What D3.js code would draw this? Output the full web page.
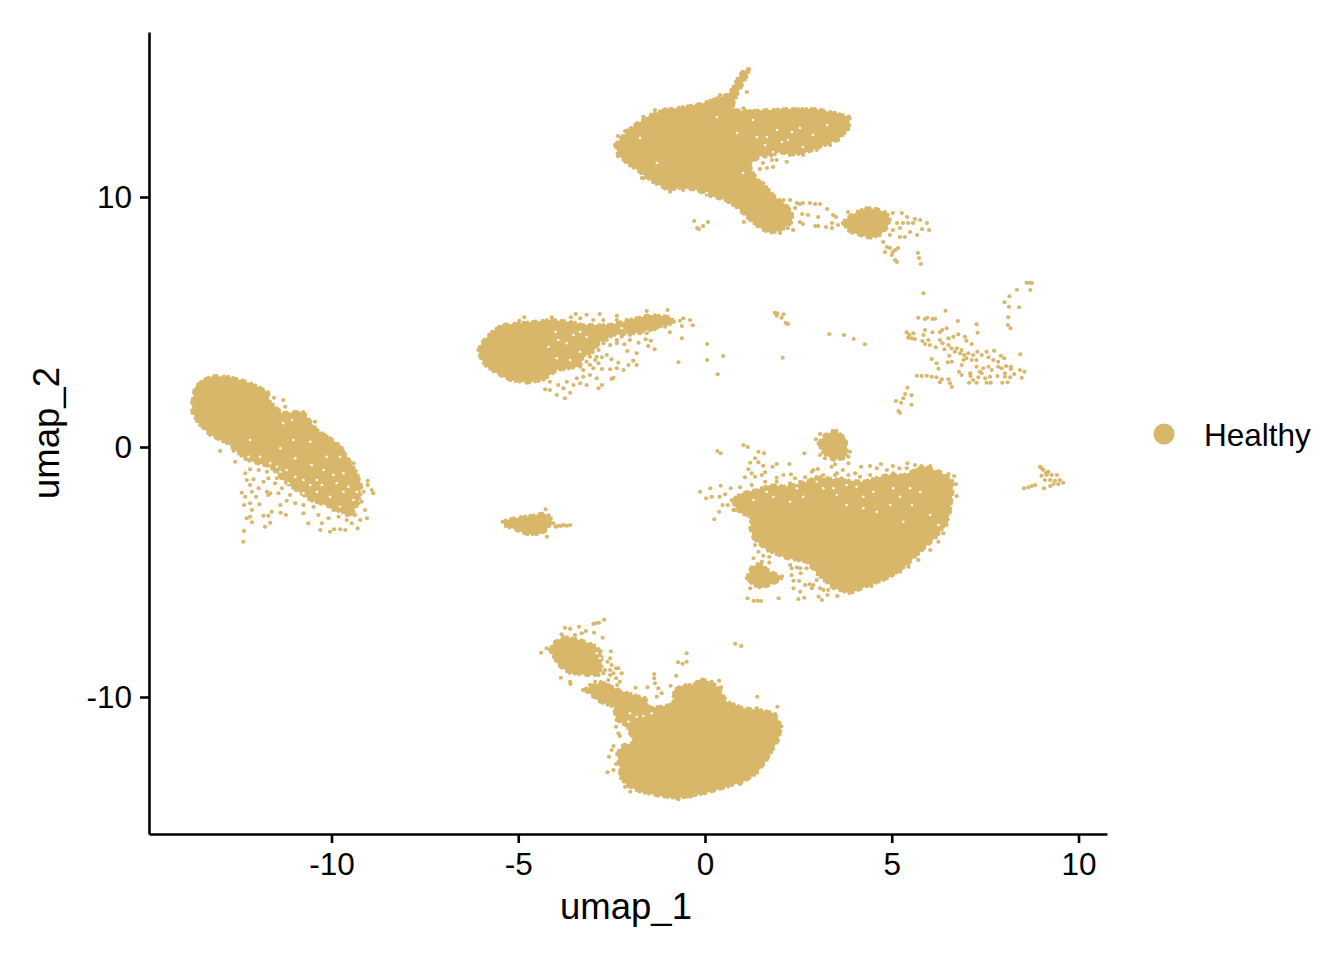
<!DOCTYPE html>
<html><head><meta charset="utf-8">
<script src="https://cdn.jsdelivr.net/npm/d3@7"></script>
<style>html,body{margin:0;background:#fff}svg{display:block}text{font-family:"Liberation Sans",Arial,sans-serif;fill:#000}</style>
</head><body><div id="c"></div>
<script>
const xTicks=[-10,-5,0,5,10];
const yTicks=[-10,0,10];
const xLabel="umap_1", yLabel="umap_2";
const groupName="Healthy";
const groupColor="#D8B66A";

// Dense regions: outlines, in umap units
const blobTop=[[-2.41,12.08],[-2.06,12.68],[-1.74,13],[-1.47,13.28],[-1.07,13.48],[-.4,13.64],[0,13.76],[.35,13.96],[.59,14.08],[.75,14.36],[.88,14.76],[1.02,15.04],[1.2,15.12],[1.12,14.84],[1.02,14.56],[.88,14.16],[.75,13.72],[.78,13.48],[1.2,13.44],[1.74,13.48],[2.28,13.52],[2.95,13.52],[3.48,13.36],[3.88,13.2],[3.86,12.76],[3.56,12.28],[3.08,12],[2.68,11.76],[2.28,11.68],[2.01,11.8],[1.74,11.64],[1.53,11.68],[1.34,11.48],[1.2,11.28],[1.26,11],[1.42,10.68],[1.66,10.36],[1.87,10],[2.14,9.72],[2.33,9.36],[2.33,9],[2.06,8.68],[1.74,8.56],[1.47,8.76],[1.15,9.16],[.88,9.56],[.54,9.88],[.13,10.04],[-.21,10.28],[-.67,10.36],[-.99,10.28],[-1.39,10.6],[-1.82,11.08],[-2.06,11.32],[-2.33,11.68]];
const blobTopRight=[[3.69,8.96],[3.83,9.2],[4.07,9.4],[4.33,9.56],[4.6,9.52],[4.87,9.36],[4.95,9.08],[4.87,8.76],[4.69,8.48],[4.41,8.36],[4.15,8.48],[3.88,8.6]];
const blobLeft=[[-13.73,1.8],[-13.65,2.4],[-13.44,2.68],[-13.17,2.84],[-12.72,2.8],[-12.18,2.56],[-11.7,2.2],[-11.65,1.8],[-11.33,1.36],[-10.76,1.4],[-10.39,.68],[-9.85,.16],[-9.58,-.4],[-9.32,-1.04],[-9.2,-1.6],[-9.28,-2.25],[-9.5,-2.79],[-10.04,-2.39],[-10.57,-2.12],[-11.2,-1.45],[-11.64,-.79],[-12.27,-.52],[-12.37,-.4],[-12.8,.16],[-13.25,.48],[-13.57,.96],[-13.73,1.4]];
const blobMid=[[-6.07,3.88],[-5.98,4.15],[-5.75,4.55],[-5.44,4.88],[-4.95,4.95],[-4.15,5.08],[-3.61,5.01],[-3.26,4.88],[-2.54,4.88],[-2.01,5.08],[-1.47,5.28],[-.94,5.21],[-.8,4.95],[-1.11,4.88],[-1.47,4.68],[-1.92,4.55],[-2.45,4.48],[-2.81,4.21],[-2.99,3.81],[-3.26,3.61],[-3.34,3.21],[-3.97,3.08],[-4.33,2.68],[-4.77,2.57],[-5.22,2.68],[-5.58,2.95],[-5.89,3.28],[-6.02,3.61]];
const blobStrip=[[-5.42,-2.99],[-5.22,-2.88],[-4.86,-2.79],[-4.6,-2.75],[-4.33,-2.65],[-4.15,-2.75],[-4.1,-2.99],[-4.24,-3.32],[-4.42,-3.49],[-4.77,-3.49],[-5.04,-3.32],[-5.35,-3.15]];
const blobCap=[[3.04,.15],[3.21,.48],[3.48,.68],[3.75,.35],[3.81,-.05],[3.75,-.45],[3.44,-.52],[3.17,-.25]];
const blobRight=[[1.3,-3.65],[1.65,-4.12],[2.19,-4.45],[2.72,-4.59],[3.04,-5.12],[3.44,-5.65],[3.88,-5.85],[4.42,-5.52],[4.96,-5.19],[5.4,-4.72],[5.76,-4.19],[6.2,-3.59],[6.52,-2.85],[6.61,-2.05],[6.65,-1.39],[6.29,-.99],[5.85,-.79],[5.31,-1.12],[4.87,-1.12],[4.24,-1.39],[3.62,-1.32],[3,-1.19],[2.72,-1.39],[2.19,-1.59],[1.74,-1.52],[1.39,-1.72],[.98,-1.85],[.72,-2.12],[.94,-2.65],[1.25,-2.79],[1.21,-3.25]];
const blobRightFoot=[[1.12,-5.25],[1.25,-4.79],[1.47,-4.65],[1.74,-4.99],[2.1,-5.19],[1.92,-5.39],[1.52,-5.65],[1.3,-5.52]];
const blobBottom=[[-2.35,-12.25],[-2.19,-11.92],[-1.96,-11.85],[-1.87,-11.59],[-1.6,-10.92],[-1.11,-10.52],[-.85,-10.25],[-.83,-9.72],[-.58,-9.52],[-.31,-9.52],[-.13,-9.29],[.18,-9.39],[.4,-9.72],[.58,-10.19],[1.03,-10.45],[1.47,-10.52],[1.87,-10.65],[2.05,-11.19],[1.96,-11.72],[1.65,-12.52],[1.38,-13.05],[1.03,-13.39],[.58,-13.59],[.05,-13.83],[-.4,-13.96],[-.71,-14.05],[-1.2,-13.96],[-1.74,-13.79],[-2.1,-13.52],[-2.28,-13.19],[-2.27,-12.92]];
const blobStalk=[[-3.26,-9.72],[-2.77,-9.39],[-2.32,-9.72],[-1.92,-9.92],[-1.6,-10.05],[-1.47,-10.45],[-.94,-10.32],[-1.11,-10.79],[-1.65,-11.45],[-1.92,-11.65],[-2.19,-11.05],[-2.37,-10.92],[-2.45,-10.39],[-2.81,-10.19],[-3.08,-9.85]];
const blobBottomLeft=[[-4.15,-8.12],[-4.06,-7.85],[-3.79,-7.59],[-3.35,-7.72],[-2.99,-7.92],[-2.77,-8.19],[-2.77,-8.79],[-2.85,-9.12],[-3.17,-9.12],[-3.61,-9.05],[-3.93,-8.72]];
const denseOutlines=[blobTop,blobTopRight,blobLeft,blobMid,blobStrip,blobCap,blobRight,blobRightFoot,blobBottom,blobStalk,blobBottomLeft];

// Single cells, region by region
const cellsTop=[[1.55,11.36],[1.79,11.48],[1.47,11.12],[1.66,11.16],[1.82,11.2],[-.29,9.04],[-.21,8.76],[-.16,8.72],[-.05,8.84],[.08,9],[1.04,9],[2.46,9.76],[2.62,9.76],[2.81,9.76],[2.95,9.72],[3.08,9.72],[3.27,9.52],[3.43,9.28],[3.51,9.2],[2.28,9.88],[2.22,9.6],[2.33,9.28],[2.6,9.32],[2.76,9.28],[3.03,9.2],[2.54,9],[2.62,8.92],[2.95,8.84],[3.03,8.84],[3.24,8.8],[3.4,8.96],[3.4,8.76],[3.56,8.88],[3.83,9.4],[2.41,9.56],[2.54,9.72],[2.22,8.76],[2.36,8.68],[2.01,8.56],[5.03,9.36],[5.27,9.36],[5.41,9.2],[5.62,9.12],[5.76,9.08],[5.94,8.96],[6,8.68],[5.81,8.72],[5.68,8.48],[5.49,8.6],[5.22,8.4],[5.35,8.4],[5.14,8.96],[5.03,8.68],[4.95,8.48],[5.3,8.96],[5.22,8.76],[5.44,8.96],[5.57,8.96],[4.77,8.2],[4.87,8],[4.82,7.8],[4.95,7.96],[5.09,7.88],[5.17,7.96],[5,7.68],[5.09,7.48],[5.14,7.4],[5.03,7.8],[5.7,7.76],[5.73,7.56],[5.78,7.32],[-1.34,13.48],[.4,14.08],[.05,13.8],[1.12,14.2],[1.07,14.88],[1.15,15.12],[-2.14,12.64],[-2.33,12.44],[-2.33,11.64],[-1.69,10.76],[-1.07,13.51],[-.44,13.55],[-.09,13.68],[.05,13.79],[.22,13.88],[.58,14.08],[1.03,13.55],[1.25,13.41],[1.56,13.41],[1.96,13.45],[2.5,13.51],[3.17,13.39],[3.48,13.35],[-1.65,13.21],[-1.83,12.95],[-1.96,12.61],[-1.65,10.75],[-1.38,10.61],[-.94,10.21],[-.58,10.28],[-.13,10.21],[3.75,12.68],[3.35,12.08],[2.99,11.88],[2.63,11.68],[2.19,11.41],[1.92,11.48],[1.61,11.61],[1.56,10.55],[1.65,10.35],[1.3,10.75],[1.03,10.81],[2.1,9.88]];
const cellsLeft=[[-12.36,-3.79],[-12.34,-3.36],[-11.78,-3.19],[-11.64,-3.03],[-12.13,-3.01],[-12.27,-2.85],[-12.18,-2.79],[-11.82,-2.75],[-11.69,-2.75],[-11.6,-2.59],[-11.36,-2.63],[-11.22,-2.72],[-12.34,-2.32],[-12.18,-2.25],[-11.93,-2.29],[-12.13,-2.52],[-12.4,-1.83],[-12.31,-1.99],[-12.13,-1.79],[-12.02,-1.99],[-11.69,-1.92],[-11.73,-1.79],[-11.64,-1.85],[-11.42,-1.85],[-11.33,-1.65],[-11.95,-1.65],[-12.18,-1.52],[-12.09,-1.29],[-12.27,-1.32],[-11.82,-1.39],[-11.69,-1.25],[-11.51,-1.45],[-11.46,-1.25],[-11.37,-2.32],[-11.2,-2.15],[-11.11,-1.92],[-10.97,-2.25],[-10.75,-2.65],[-10.62,-3.05],[-10.75,-2.32],[-10.48,-2.39],[-10.3,-2.25],[-10.35,-2.72],[-10.26,-3.05],[-10.3,-3.32],[-10.04,-3.39],[-9.93,-3.29],[-9.77,-3.29],[-9.63,-3.32],[-9.3,-3.25],[-10.08,-2.85],[-9.95,-2.52],[-9.81,-2.79],[-9.72,-2.45],[-9.59,-2.92],[-9.46,-3.05],[-9.37,-2.72],[-9.23,-2.92],[-9.05,-2.85],[-9.1,-2.52],[-9.19,-2.19],[-9.32,-2.12],[-9.14,-1.79],[-8.88,-1.85],[-8.92,-1.72],[-9.03,-1.52],[-9.03,-1.35],[-9.28,-1.39],[-12.58,-.59],[-12.98,-.16],[-12.62,-.15],[-12.31,-1.05],[-12.18,-.89],[-11.95,-.92],[-11.73,-.99],[-11.54,1.97],[-11.29,1.88],[-11.24,1.61],[-10.97,1.41],[-10.75,1.35],[-10.44,1.01],[-10.13,.41],[-9.72,-.05],[-9.41,-.65]];
const cellsMid=[[-4.28,2.31],[-4.15,2.61],[-4.15,2.28],[-3.97,2.08],[-3.75,1.95],[-3.61,2.17],[-3.79,2.35],[-3.93,2.48],[-3.7,2.61],[-3.52,2.48],[-3.43,2.75],[-3.26,2.81],[-3.08,2.88],[-2.9,2.75],[-2.76,2.48],[-2.85,2.35],[-3.17,2.48],[-3.34,2.55],[-2.99,3.15],[-2.85,3.35],[-2.94,3.48],[-2.76,3.59],[-2.63,3.68],[-2.5,3.51],[-2.32,3.37],[-2.76,3.12],[-2.54,3.11],[-2.36,3.15],[-2.18,3.08],[-2.45,2.77],[-2.5,2.72],[-2.05,3.28],[-1.92,3.45],[-1.83,3.28],[-1.83,3.75],[-2.08,3.84],[-2.16,4.11],[-2.36,4.15],[-2.01,4.28],[-1.78,4.17],[-1.59,4.31],[-1.45,4.25],[-1.52,4.04],[-1.35,3.91],[-.94,4.59],[-.62,4.35],[-.71,3.39],[.06,4.12],[.06,3.48],[.49,3.64],[.34,2.91],[-.33,4.87],[-.4,5.08],[-.58,5.15],[-.67,5.05],[-.62,4.84],[-1,5.48],[-4.84,5.19],[-4.97,5.05],[-4.1,5.19],[-3.59,5.19],[-3.46,5.32],[-3.17,5.29],[-2.82,5.32],[-2.36,5.25],[-1.56,5.44],[-3.21,3.75],[-3.17,3.41],[-3.08,3.28],[-3.26,3.08],[-2.94,4.01],[-2.63,4.28],[-2.68,4.48],[-2.36,4.28],[-2.23,4.41],[-2.01,4.48],[-1.74,4.55],[-1.56,4.55],[-1.34,4.71],[-1.07,4.81],[-3.34,5.15],[-2.99,5.08],[-2.72,5.08],[-2.36,5.08],[-2.1,5.08],[-2.72,4.15],[-2.54,4.08],[-2.85,3.88],[-3.08,3.61],[-2.9,3.61]];
const cellsStrip=[[-4.27,-2.49],[-4.23,-3.59],[-4.06,-3.05],[-3.93,-3.15],[-3.79,-3.12],[-3.61,-3.12],[-4,-3.19],[-3.86,-3.16],[-3.7,-3.15]];
const cellsRight=[[.33,-.16],[.42,-.25],[1.03,.08],[1.14,0],[1.43,-.19],[1.58,-.25],[2.66,-.25],[2.26,-.68],[1.21,-.63],[1.34,-.45],[1.43,-.61],[1.56,-.75],[1.81,-.79],[1.92,-.68],[1.16,-.89],[1.25,-1.05],[1.07,-1.21],[1.34,-1.19],[1.52,-1.12],[1.61,-1.01],[1.92,-1.23],[2.1,-1.12],[2.3,-1.09],[2.41,-1.25],[2.68,-1.21],[2.86,-.99],[3.02,-.88],[3.39,-.79],[3.48,-.69],[3.84,-.65],[3.48,-1.12],[3.69,-.92],[3.84,-1.12],[4.02,-1.05],[4.18,-.79],[4.42,-.76],[4.6,-.85],[4.71,-.68],[5.03,-.76],[5.2,-.85],[5.42,-.65],[5.62,-.72],[5.79,-.76],[6.03,-.76],[6.28,-1],[6.52,-1.08],[6.67,-1.16],[6.72,-1.49],[6.74,-1.96],[-.13,-1.79],[.14,-1.65],[.42,-1.55],[.03,-2.05],[.18,-1.99],[.39,-1.99],[.54,-1.89],[.69,-1.65],[.94,-1.61],[.47,-2.32],[.61,-2.32],[.38,-2.59],[.25,-2.89],[.8,-2.52],[.72,-2.12],[1.34,-3.92],[1.43,-4.19],[1.3,-4.45],[1.56,-4.35],[1.72,-4.39],[1.72,-4.62],[1.52,-4.59],[1.14,-6.05],[1.3,-6.15],[1.41,-6.15],[1.5,-6.16],[1.97,-6.05],[1.21,-5.65],[2.32,-4.85],[2.46,-4.82],[2.56,-5.05],[2.72,-4.85],[2.32,-5.12],[2.37,-5.35],[2.52,-5.36],[2.68,-5.52],[2.8,-5.49],[2.86,-5.65],[2.37,-5.65],[2.55,-5.79],[2.5,-6.08],[2.66,-6.03],[3.04,-5.99],[3.13,-6.12],[3.28,-5.92],[3.54,-5.96],[3.17,-5.72],[2.99,-5.32],[2.9,-5.52],[3.08,-5.65],[3.3,-5.72],[2.28,-4.72],[2.55,-4.85],[6.03,-4.12],[6.25,-3.79],[6.38,-3.45],[6.47,-3.12],[5.71,-4.52],[5.45,-4.79],[5.22,-4.99],[5,-5.15],[4.78,-5.32],[4.46,-5.56],[2.97,.31],[3.08,.52],[3.88,-.19],[3.84,-.39],[3.08,-.32],[3.21,-.45],[2.55,-1.39],[2.9,-.92],[3.17,-1.12],[3.3,-1.32],[3.53,-1.05],[3.66,-1.25],[3.97,-1.45],[4.15,-1.19],[4.42,-1.12],[4.6,-1.39],[4.87,-.92],[5.04,-1.05],[5.18,-1.32],[5.4,-.85],[5.54,-1.12],[5.67,-.92],[5.94,-1.12],[6.2,-1.25],[6.43,-1.45],[6.56,-1.65],[6.47,-2.19],[6.56,-2.59],[6.38,-3.12],[6.25,-3.39],[2.28,-1.45],[1.92,-1.39],[1.61,-1.39],[1.25,-1.52],[.94,-1.99],[.8,-2.32],[1.07,-2.32],[.76,-2.52]];
const cellsBottom=[[-4.39,-8.23],[-4.24,-8.05],[-3.84,-7.49],[-3.75,-7.23],[-3.61,-7.27],[-3.37,-7.19],[-3.48,-7.52],[-3.3,-7.45],[-3.19,-7.36],[-2.97,-7.43],[-2.99,-7.08],[-2.92,-7.05],[-2.84,-7.03],[-2.7,-6.91],[-2.74,-7.63],[-2.52,-8.17],[-2.54,-8.45],[-2.61,-8.59],[-2.5,-8.72],[-2.32,-8.85],[-2.23,-9.05],[-2.38,-9.25],[-2.54,-8.92],[-3.86,-9.23],[-3.61,-9.39],[-3.6,-9.48],[-3.26,-9.72],[-3.08,-9.79],[-2.86,-10.05],[-2.99,-9.99],[-2.63,-9.52],[-2.28,-9.39],[-2.72,-9.05],[.81,-7.87],[.97,-7.96],[-.49,-8.25],[-.72,-8.61],[-.6,-8.67],[-.49,-8.59],[-.77,-9.15],[-1.36,-9.08],[-1.36,-9.25],[-1.34,-9.45],[-1.25,-9.65],[-1.16,-9.85],[-1.29,-9.99],[-.92,-9.55],[-1.54,-9.61],[-1.86,-9.63],[.38,-9.35],[.43,-9.61],[1.4,-9.99],[1.94,-10.39],[1.38,-10.45],[-2.57,-12.39],[-2.45,-11.96],[-2.5,-12.12],[-2.61,-13.01],[-2.45,-12.92],[-2.38,-12.68],[-2.14,-13.59],[-2,-13.79],[.94,-13.48],[0,-13.85],[-.4,-13.99],[-.71,-14.09],[-2.35,-10.92],[-2.38,-11.19],[-2.32,-11.45],[-2.28,-11.56],[-3.08,-9.52],[-2.9,-9.72],[-2.72,-9.85],[-2.59,-9.32],[-2.5,-9.59],[-2.54,-9.12],[-2.41,-9.99],[-2.59,-10.12],[-2.45,-10.25],[-2.77,-9.52],[-2.94,-9.39],[-2.85,-9.12],[-2.68,-8.92],[-2.45,-9.05],[-2.35,-9.52],[-2.23,-9.85],[-2.1,-9.99],[-2.38,-8.85]];
const cellsSparse=[[1.87,5.37],[1.94,5.35],[1.92,5.25],[2.1,5.31],[2.05,5.17],[2.16,4.97],[2.22,4.92],[2.08,3.57],[3.33,4.52],[3.72,4.48],[3.98,4.32],[4.28,4.11],[5.85,6.15],[6.44,5.45],[5.71,5.17],[5.89,5.12],[5.95,5.17],[6.09,5.12],[6.16,5.13],[6.77,5.04],[7.27,4.91],[7.3,4.57],[5.4,4.59],[5.47,4.48],[5.44,4.37],[5.58,4.55],[5.62,4.32],[5.53,4.35],[5.89,4.68],[5.85,4.48],[6.09,4.59],[6.29,4.59],[6.35,4.68],[6.47,4.75],[5.82,4.24],[5.89,4.12],[6.02,4.08],[5.98,4.28],[6.18,3.99],[6.29,4.28],[6.36,4.15],[6.41,3.91],[6.52,4.35],[6.65,4.41],[6.78,4.51],[6.96,4.41],[7,4.25],[7.14,4.12],[6.52,4.08],[6.6,3.95],[6.74,3.95],[6.87,3.88],[6.69,3.81],[6.83,3.75],[6.94,3.68],[7.05,3.75],[7.18,3.68],[7.29,3.81],[7.54,3.81],[7.74,3.85],[7,3.55],[7.14,3.48],[7.27,3.48],[7.41,3.68],[7.59,3.59],[7.72,3.48],[7.85,3.41],[7.92,3.65],[8.01,3.55],[6.07,3.52],[6.2,3.35],[6.54,3.65],[6.5,3.39],[6.61,3.41],[6.25,3.13],[6.92,3.48],[6.87,3.28],[6.8,3.01],[6.87,2.88],[7.1,2.95],[7.11,2.84],[7.27,3.21],[7.36,3.01],[7.45,3.15],[7.59,3.21],[7.68,3.08],[7.85,3.21],[8.06,3.24],[8.19,3.21],[8.19,3.12],[8.43,3.08],[8.55,3.01],[8.44,3.71],[8.48,2.77],[8.28,2.92],[8.17,2.79],[8.03,2.95],[7.83,2.84],[7.63,2.81],[7.5,2.75],[7.32,2.79],[7.18,2.68],[7.07,2.57],[7.27,2.57],[7.54,2.57],[7.65,2.57],[7.96,2.57],[8.1,2.59],[7.41,2.95],[7.94,3.15],[8.03,2.81],[5.67,2.85],[5.8,2.84],[5.94,2.85],[6.07,2.81],[6.2,2.79],[6.34,2.71],[6.52,2.71],[6.56,2.55],[6.61,2.4],[6.29,2.59],[5.42,2.37],[5.36,2.12],[5.31,1.95],[5.25,1.77],[5.11,1.84],[5.53,2.07],[5.53,1.69],[5.18,1.44],[5.22,1.37],[8.61,6.57],[8.75,6.56],[8.68,6.57],[8.71,6.28],[8.35,6.29],[8.15,6.03],[8.02,5.79],[8.14,5.61],[8.41,5.59],[8.12,5.19],[8.11,4.88],[8.18,4.75]];
const cellsFar=[[8.97,-.79],[9.06,-.92],[9.19,-.99],[9.28,-1.12],[9.42,-1.12],[9.5,-1.32],[9.59,-1.43],[9.46,-1.48],[9.33,-1.48],[9.24,-1.56],[9.1,-1.32],[9.01,-1.15],[9.15,-1.12],[9.24,-1.32],[9.37,-1.35],[8.54,-1.65],[8.66,-1.61],[8.75,-1.56],[8.84,-1.52],[9.08,-1.65],[9.01,-.85],[9.13,-1.05]];
const cells=[cellsTop,cellsLeft,cellsMid,cellsStrip,cellsRight,cellsBottom,cellsSparse,cellsFar];

// Places inside the dense regions where the picture shows white between cells
const gaps=[[2.06,12.2],[2.22,12.28],[1.66,12.4],[1.39,12.4],[3.27,12.88],[2.54,12.76],[2.89,12.48],[1.93,12.68],[1.61,12.08],[1.82,11.8],[-1.74,12.36],[.32,13.2],[1.28,13.08],[-1.29,11.36],[.05,10.16],[1.02,10.96],[.86,12.56],[2.62,12],[2.33,12.6],[-11.37,-.05],[-10.97,-.45],[-11.46,-.79],[-10.53,-.72],[-10.21,-.92],[-9.77,-.39],[-10.75,-1.32],[-10.39,-1.32],[-11.02,.28],[-12.18,.28],[-11.29,.95],[-11.06,1.08],[-11.64,-.65],[-10.57,.21],[-10.13,-.39],[-9.68,-1.05],[-9.95,-1.12],[-11.2,-.92],[-11.91,-.39],[-12.22,-.39],[-10.75,-1.85],[-10.39,-1.79],[-10.04,-1.99],[-9.68,-1.79],[-10.21,-2.39],[-9.77,-2.39],[-9.41,-2.12],[-10.57,-1.52],[-10.97,-1.19],[-11.37,-.99],[-9.86,-1.45],[-10.26,-1.52],[-9.55,-1.59],[-9.32,-1.79],[-9.68,-2.72],[-11.15,-1.45],[-3.34,4.61],[-3.7,4.15],[-3.52,4.48],[-3.17,4.41],[-4.19,4.01],[-3.97,3.55],[-3.34,3.81],[-3.61,3.48],[-3.21,3.55],[-4,4.61],[-3.93,4.28],[-2.23,4.75],[2.28,-2.19],[2.63,-1.99],[3.17,-1.65],[3.53,-1.92],[4.06,-1.59],[4.51,-1.79],[4.24,-1.99],[4.96,-2.32],[5.31,-2.99],[5.54,-2.32],[5.49,-1.65],[5.04,-1.65],[3.79,-2.32],[4.6,-2.59],[5.22,-1.99],[6.03,-2.72],[6.25,-3.12],[2.46,-1.65],[1.83,-1.99],[1.3,-2.12],[1.65,-1.79],[3.44,-1.65],[4.24,-2.45],[5.76,-1.79],[2.99,-1.39],[3.79,-1.52],[-2.14,-11.25],[-2.19,-11.45],[-1.83,-10.79],[-1.65,-10.76],[-1.43,-10.65],[-2.01,-10.65],[-2.05,-10.99],[-2.81,-8.45],[-2.9,-8.25]];

const W=1344,H=960,L=149,R=1107,T=32,B=834;
const x=d3.scaleLinear().domain([-14.886,10.763]).range([L,R]);
const y=d3.scaleLinear().domain([-15.48,16.6]).range([B,T]);
const svg=d3.select("#c").append("svg").attr("width",W).attr("height",H);
const line=d3.line().x(d=>x(d[0])).y(d=>y(d[1])).curve(d3.curveLinearClosed);

svg.append("g").selectAll("path").data(denseOutlines).join("path")
  .attr("d",line).attr("fill",groupColor).attr("stroke",groupColor)
  .attr("stroke-width",4.2).attr("stroke-linecap","round")
  .attr("stroke-dasharray","0 3.2 0 6.3 0 2.4 0 7.2 0 4.1 0 5.3");
svg.append("g").selectAll("circle").data(gaps).join("circle")
  .attr("cx",d=>x(d[0])).attr("cy",d=>y(d[1])).attr("r",1.3).attr("fill","#fff");
svg.append("g").selectAll("circle").data(cells.flat()).join("circle")
  .attr("cx",d=>x(d[0])).attr("cy",d=>y(d[1])).attr("r",2.1).attr("fill",groupColor);

const style=g=>{g.selectAll("path.domain").attr("stroke","#000").attr("stroke-width",2.6);
  g.selectAll(".tick line").attr("stroke","#000").attr("stroke-width",2.6);
  g.selectAll("text").attr("font-size",31.5).attr("font-family",'"Liberation Sans",Arial,sans-serif').attr("fill","#000");};
svg.append("g").attr("transform",`translate(0,${B})`)
  .call(d3.axisBottom(x).tickValues(xTicks).tickFormat(d3.format("d")).tickSizeOuter(0).tickSizeInner(9).tickPadding(10)).call(style);
svg.append("g").attr("transform",`translate(${L},0)`)
  .call(d3.axisLeft(y).tickValues(yTicks).tickFormat(d3.format("d")).tickSizeOuter(0).tickSizeInner(9).tickPadding(8)).call(style);
svg.selectAll(".tick text").text(function(){return this.textContent.replace("\u2212","-");});

svg.append("text").attr("x",626).attr("y",919).attr("text-anchor","middle").attr("font-size",36.5).text(xLabel);
svg.append("text").attr("transform",`translate(59,433) rotate(-90)`).attr("text-anchor","middle").attr("font-size",36.5).text(yLabel);
svg.append("circle").attr("cx",1164).attr("cy",434).attr("r",10.5).attr("fill",groupColor);
svg.append("text").attr("x",1204).attr("y",446).attr("font-size",31.5).text(groupName);
</script></body></html>
